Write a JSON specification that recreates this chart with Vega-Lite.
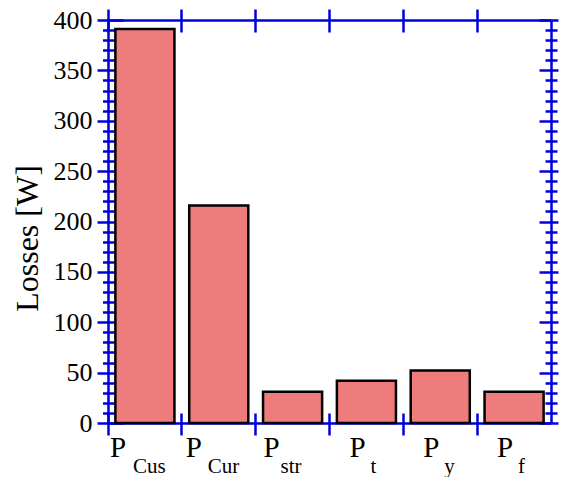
{
  "$schema": "https://vega.github.io/schema/vega-lite/v6.json",
  "width": 443,
  "height": 403,
  "autosize": "none",
  "padding": {"left": 108, "top": 20, "right": 11, "bottom": 54},
  "background": "white",
  "config": {
    "view": {"stroke": null},
    "axis": {
      "grid": false,
      "zindex": 1,
      "domainColor": "#0000dd",
      "domainWidth": 2.5,
      "tickColor": "#0000dd",
      "tickWidth": 2.5,
      "labelColor": "#000000",
      "labelFont": "Liberation Serif",
      "titleFont": "Liberation Serif"
    }
  },
  "data": {
    "values": [
      {"loss": "P_Cus", "value": 391},
      {"loss": "P_Cur", "value": 216},
      {"loss": "P_str", "value": 31},
      {"loss": "P_t", "value": 42},
      {"loss": "P_y", "value": 52},
      {"loss": "P_f", "value": 31}
    ]
  },
  "layer": [
    {
      "mark": {"type": "bar", "width": {"band": 0.8}, "fill": "#ee7c7c", "stroke": "#000000", "strokeWidth": 2.5},
      "encoding": {
        "x": {
          "field": "loss", "type": "nominal", "sort": null,
          "scale": {"paddingInner": 0, "paddingOuter": 0},
          "axis": {
            "orient": "bottom", "title": null, "domain": true, "ticks": false, "tickSize": 0,
            "labelExpr": "'P'", "labelFontSize": 29, "labelAlign": "left", "labelBaseline": "alphabetic",
            "labelPadding": 33, "labelOverlap": false, "labelAngle": 0,
            "labelOffset": {
              "condition": [
                {"test": "datum.value === 'P_Cus'", "value": -35},
                {"test": "datum.value === 'P_Cur'", "value": -33},
                {"test": "datum.value === 'P_str'", "value": -29}
              ],
              "value": -17
            }
          }
        },
        "y": {
          "field": "value", "type": "quantitative",
          "scale": {"domain": [0, 400], "nice": false, "zero": true},
          "axis": {
            "orient": "left", "title": "Losses [W]",
            "values": [0, 50, 100, 150, 200, 250, 300, 350, 400],
            "domain": true, "tickSize": 11, "labelPadding": 5, "labelFontSize": 26,
            "labelBaseline": "middle", "labelFlush": false, "labelOverlap": false,
            "titleFontSize": 32, "titleFontWeight": "normal", "titleColor": "#000000",
            "titleX": -70.7, "titleY": 218, "titleAngle": -90, "titleAlign": "center", "titleBaseline": "alphabetic"
          }
        }
      }
    },
    {
      "mark": {"type": "bar", "width": {"band": 0.8}, "opacity": 0},
      "encoding": {
        "x": {
          "field": "loss", "type": "nominal", "sort": null,
          "axis": {
            "orient": "bottom", "title": null, "domain": false, "ticks": false, "tickSize": 0,
            "labelExpr": "substring(datum.value, 2)", "labelFontSize": 21, "labelAlign": "left",
            "labelBaseline": "alphabetic", "labelPadding": 49, "labelOverlap": false, "labelAngle": 0,
            "labelOffset": {
              "condition": [
                {"test": "datum.value === 'P_Cus'", "value": -12},
                {"test": "datum.value === 'P_Cur'", "value": -11},
                {"test": "datum.value === 'P_str'", "value": -12}
              ],
              "value": 4
            }
          }
        },
        "y": {
          "field": "value", "type": "quantitative",
          "axis": {"orient": "left", "title": null, "values": [0, 50, 100, 150, 200, 250, 300, 350, 400], "domain": false, "labels": false, "tickSize": -15}
        }
      }
    },
    {
      "mark": {"type": "bar", "width": {"band": 0.8}, "opacity": 0},
      "encoding": {
        "x": {
          "field": "loss", "type": "nominal", "sort": null,
          "axis": {"orient": "bottom", "title": null, "domain": false, "labels": false, "tickSize": 22, "offset": -10, "bandPosition": 0}
        },
        "y": {
          "field": "value", "type": "quantitative",
          "axis": {"orient": "left", "title": null, "values": [10, 20, 30, 40, 60, 70, 80, 90, 110, 120, 130, 140, 160, 170, 180, 190, 210, 220, 230, 240, 260, 270, 280, 290, 310, 320, 330, 340, 360, 370, 380, 390], "domain": false, "labels": false, "tickSize": 12.5, "offset": -7}
        }
      }
    },
    {
      "mark": {"type": "bar", "width": {"band": 0.8}, "opacity": 0},
      "encoding": {
        "x": {
          "field": "loss", "type": "nominal", "sort": null,
          "axis": {"orient": "top", "title": null, "domain": true, "labels": false, "tickSize": 11, "bandPosition": 0}
        },
        "y": {
          "field": "value", "type": "quantitative",
          "axis": {"orient": "right", "title": null, "values": [0, 50, 100, 150, 200, 250, 300, 350, 400], "domain": true, "labels": false, "tickSize": 7}
        }
      }
    },
    {
      "mark": {"type": "bar", "width": {"band": 0.8}, "opacity": 0},
      "encoding": {
        "x": {
          "field": "loss", "type": "nominal", "sort": null,
          "axis": {"orient": "top", "title": null, "domain": false, "labels": false, "tickSize": -12, "bandPosition": 0}
        },
        "y": {
          "field": "value", "type": "quantitative",
          "axis": {"orient": "right", "title": null, "values": [0, 50, 100, 150, 200, 250, 300, 350, 400], "domain": false, "labels": false, "tickSize": -12}
        }
      }
    },
    {
      "mark": {"type": "bar", "width": {"band": 0.8}, "opacity": 0},
      "encoding": {
        "x": {"field": "loss", "type": "nominal", "sort": null, "axis": null},
        "y": {
          "field": "value", "type": "quantitative",
          "axis": {"orient": "right", "title": null, "values": [10, 20, 30, 40, 60, 70, 80, 90, 110, 120, 130, 140, 160, 170, 180, 190, 210, 220, 230, 240, 260, 270, 280, 290, 310, 320, 330, 340, 360, 370, 380, 390], "domain": false, "labels": false, "tickSize": 12, "offset": -6}
        }
      }
    }
  ],
  "resolve": {"axis": {"x": "independent", "y": "independent"}}
}
